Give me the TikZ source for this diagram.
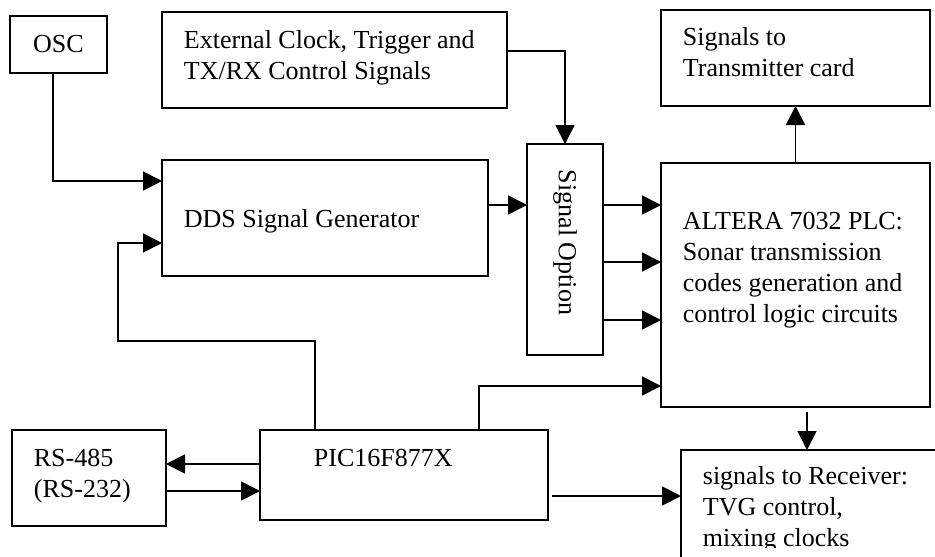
\documentclass[tikz,border=0pt]{standalone}
\usepackage{fontspec}
\setmainfont{Liberation Serif}
\usetikzlibrary{arrows.meta,positioning}

\begin{document}
\begin{tikzpicture}[
    x=1pt, y=-1pt,
    line width=1.8pt,
    >={Triangle[length=19pt,width=19pt]},
    box/.style={draw,rectangle,anchor=north west,inner sep=0pt,outer sep=0pt,
                font=\fontsize{26}{31}\selectfont},
    txt/.style={anchor=north west,inner sep=0pt,align=left,
                font=\fontsize{26}{31}\selectfont}
  ]
  \useasboundingbox (0,0) rectangle (935,557);

  % blocks
  \node[box,minimum width=97pt,minimum height=57pt] (osc) at (10,16) {OSC};
  \node[box,minimum width=345pt,minimum height=96pt] (ext) at (162,12) {};
  \node[box,minimum width=269pt,minimum height=96pt] (trans) at (661,10) {};
  \node[box,minimum width=326pt,minimum height=116pt] (dds) at (162,160) {};
  \node[box,minimum width=76pt,minimum height=211pt] (sig) at (527,144) {};
  \node[box,minimum width=269pt,minimum height=244pt] (alt) at (661,163) {};
  \node[box,minimum width=288pt,minimum height=90pt] (pic) at (260,430) {};
  \node[box,minimum width=154pt,minimum height=96pt] (rs) at (12,430) {};
  \node[box,minimum width=280pt,minimum height=130pt] (rec) at (681,450) {};

  % texts
  \node[txt] at ([shift={(21,18)}]ext.north west) {External Clock, Trigger and\\TX/RX Control Signals};
  \node[txt] at ([shift={(21,17)}]trans.north west) {Signals to\\Transmitter card};
  \node[txt] at ([shift={(21,49)}]dds.north west) {DDS Signal Generator};
  \node[txt,rotate=-90,anchor=center] at ([shift={(0,-7)}]sig.center) {Signal Option};
  \node[txt] at ([shift={(21,48)}]alt.north west) {ALTERA 7032 PLC:\\Sonar transmission\\codes generation and\\control logic circuits};
  \node[txt] at ([shift={(21,18)}]rs.north west) {RS-485\\(RS-232)};
  \node[txt] at ([shift={(53,18)}]pic.north west) {PIC16F877X};
  \begin{scope}
    \clip (rec.north west) rectangle (935,547);
    \node[txt] at ([shift={(21,16)}]rec.north west) {signals to Receiver:\\TVG control,\\mixing clocks};
  \end{scope}

  % connections
  \draw[->] ([xshift=-5.5pt]osc.south) |- (dds.west |- 0,181);
  \coordinate (bend) at (118,341);
  \draw[->] (pic.north -| 315,0) |- (bend) |- (dds.west |- 0,243);
  \draw[->] (ext.east |- 0,51) -| (sig.north);
  \draw[->] (dds.east |- 0,205) -- (sig.west |- 0,205);
  \foreach \y in {205,262,320}
    \draw[->] (sig.east |- 0,\y) -- (alt.west |- 0,\y);
  \draw[->] (alt.north) -- (trans.south);
  \draw[->] (pic.north -| 479,0) |- (alt.west |- 0,386);
  \draw[->,shorten <=5pt] (alt.south -| 807,0) -- (rec.north -| 807,0);
  \draw[->] (pic.west |- 0,464) -- (rs.east |- 0,464);
  \draw[->] (rs.east |- 0,491) -- (pic.west |- 0,491);
  \draw[->,shorten <=4pt] (pic.east |- 0,496) -- (rec.west |- 0,496);
\end{tikzpicture}
\end{document}
